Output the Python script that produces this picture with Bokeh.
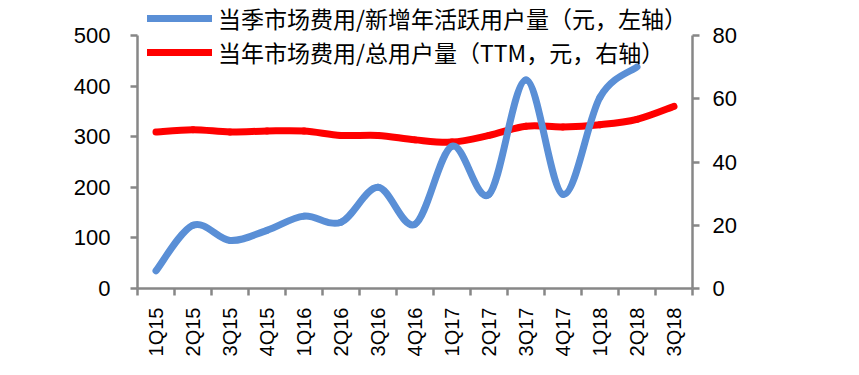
import math
from bokeh.plotting import figure
from bokeh.models import Range1d, LinearAxis, FixedTicker, Legend, LegendItem, ColumnDataSource
from bokeh.embed import file_html
from bokeh.resources import INLINE

quarters = ["1Q15", "2Q15", "3Q15", "4Q15", "1Q16", "2Q16", "3Q16", "4Q16",
            "1Q17", "2Q17", "3Q17", "4Q17", "1Q18", "2Q18", "3Q18"]
cost_per_new_user = [35, 125, 95, 115, 143, 131, 200, 127, 281, 186, 412, 186, 378, 438]
cost_per_user_ttm = [49.5, 50.2, 49.5, 49.8, 49.8, 48.4, 48.4, 47.0, 46.3, 48.4,
                     51.3, 51.1, 51.8, 53.5, 57.6]
left_ticks = [0, 100, 200, 300, 400, 500]
right_ticks = [0, 20, 40, 60, 80]
label_new = "当季市场费用/新增年活跃用户量（元，左轴）"
label_ttm = "当年市场费用/总用户量（TTM，元，右轴）"

BLUE = "#5A8FD6"
RED = "#FF0000"
GRAY = "#878787"
FONT = "Liberation Sans"

# frame extends above the 500/80 ticks so the legend (drawn above the axes' top) is not clipped
TOP_PX = 1          # frame top in canvas px
AX_TOP_PX = 35      # where 500 / 80 sit
BOT_PX = 288        # where 0 sits
stretch = (BOT_PX - TOP_PX) / (BOT_PX - AX_TOP_PX)


def smooth_source(xs, ys):
    # cubic Bezier segments (Catmull-Rom style smoothing, like a smoothed line)
    n = len(xs)
    d = dict(x0=[], y0=[], x1=[], y1=[], cx0=[], cy0=[], cx1=[], cy1=[])
    for i in range(n - 1):
        xm, ym = (xs[i - 1], ys[i - 1]) if i > 0 else (xs[i], ys[i])
        xp, yp = (xs[i + 2], ys[i + 2]) if i + 2 < n else (xs[i + 1], ys[i + 1])
        d["x0"].append(xs[i]); d["y0"].append(ys[i])
        d["x1"].append(xs[i + 1]); d["y1"].append(ys[i + 1])
        d["cx0"].append(xs[i] + (xs[i + 1] - xm) / 6.0)
        d["cy0"].append(ys[i] + (ys[i + 1] - ym) / 6.0)
        d["cx1"].append(xs[i + 1] - (xp - xs[i]) / 6.0)
        d["cy1"].append(ys[i + 1] - (yp - ys[i]) / 6.0)
    return ColumnDataSource(d)


xpos = [i + 0.5 for i in range(len(quarters))]

p = figure(width=859, height=375, output_backend="svg", toolbar_location=None,
           x_range=Range1d(0, len(quarters)),
           y_range=Range1d(0, left_ticks[-1] * stretch),
           min_border_left=137, min_border_right=167, min_border_top=TOP_PX,
           min_border_bottom=375 - BOT_PX, x_axis_location=None, y_axis_location=None)
p.extra_y_ranges = {"right": Range1d(0, right_ticks[-1] * stretch)}
p.outline_line_color = None
p.xgrid.visible = False
p.ygrid.visible = False
p.background_fill_color = "white"
p.border_fill_color = "white"

# x axis: labels at category centres, ticks at category boundaries
xaxis = LinearAxis(ticker=FixedTicker(ticks=xpos, minor_ticks=list(range(len(quarters) + 1))))
xaxis.major_label_overrides = {x: q for x, q in zip(xpos, quarters)}
xaxis.major_label_orientation = math.pi / 2
xaxis.major_tick_out = 0
xaxis.major_tick_in = 0
xaxis.minor_tick_out = 7
xaxis.minor_tick_in = 0
xaxis.minor_tick_line_color = GRAY
xaxis.minor_tick_line_width = 2.5
xaxis.axis_line_color = GRAY
xaxis.axis_line_width = 2.5
xaxis.major_label_standoff = 12
xaxis.major_label_text_font = FONT
xaxis.major_label_text_font_size = "20px"
xaxis.major_label_text_color = "black"
p.add_layout(xaxis, "below")

yleft = LinearAxis(ticker=FixedTicker(ticks=left_ticks), bounds=(left_ticks[0], left_ticks[-1]))
yright = LinearAxis(ticker=FixedTicker(ticks=right_ticks), y_range_name="right",
                    bounds=(right_ticks[0], right_ticks[-1]))
for ax in (yleft, yright):
    ax.minor_tick_line_color = None
    ax.major_tick_out = 7
    ax.major_tick_in = 0
    ax.major_tick_line_color = GRAY
    ax.major_tick_line_width = 2.5
    ax.axis_line_color = GRAY
    ax.axis_line_width = 2.5
    ax.major_label_text_font = FONT
    ax.major_label_text_font_size = "22px"
    ax.major_label_text_color = "black"
yleft.major_label_standoff = 20
yright.major_label_standoff = 13
p.add_layout(yleft, "left")
p.add_layout(yright, "right")

src_new = smooth_source(xpos[:len(cost_per_new_user)], cost_per_new_user)
src_ttm = smooth_source(xpos, cost_per_user_ttm)

r_ttm = p.bezier(x0="x0", y0="y0", x1="x1", y1="y1", cx0="cx0", cy0="cy0",
                 cx1="cx1", cy1="cy1", source=src_ttm, line_color=RED,
                 line_width=7, line_cap="round", y_range_name="right")
r_new = p.bezier(x0="x0", y0="y0", x1="x1", y1="y1", cx0="cx0", cy0="cy0",
                 cx1="cx1", cy1="cy1", source=src_new, line_color=BLUE,
                 line_width=7, line_cap="round")

legend = Legend(items=[LegendItem(label=label_new, renderers=[r_new]),
                       LegendItem(label=label_ttm, renderers=[r_ttm])],
                location=(10, BOT_PX - 69), orientation="vertical")
legend.border_line_color = None
legend.background_fill_alpha = 0
legend.padding = 0
legend.margin = 0
legend.spacing = 0
legend.glyph_width = 65
legend.glyph_height = 20
legend.label_height = 20
legend.label_standoff = 6
legend.label_text_font = "Noto Sans CJK SC"
legend.label_text_font_size = "23px"
legend.label_text_color = "black"
p.add_layout(legend, "center")

open("out.html", "w").write(file_html(p, INLINE))
